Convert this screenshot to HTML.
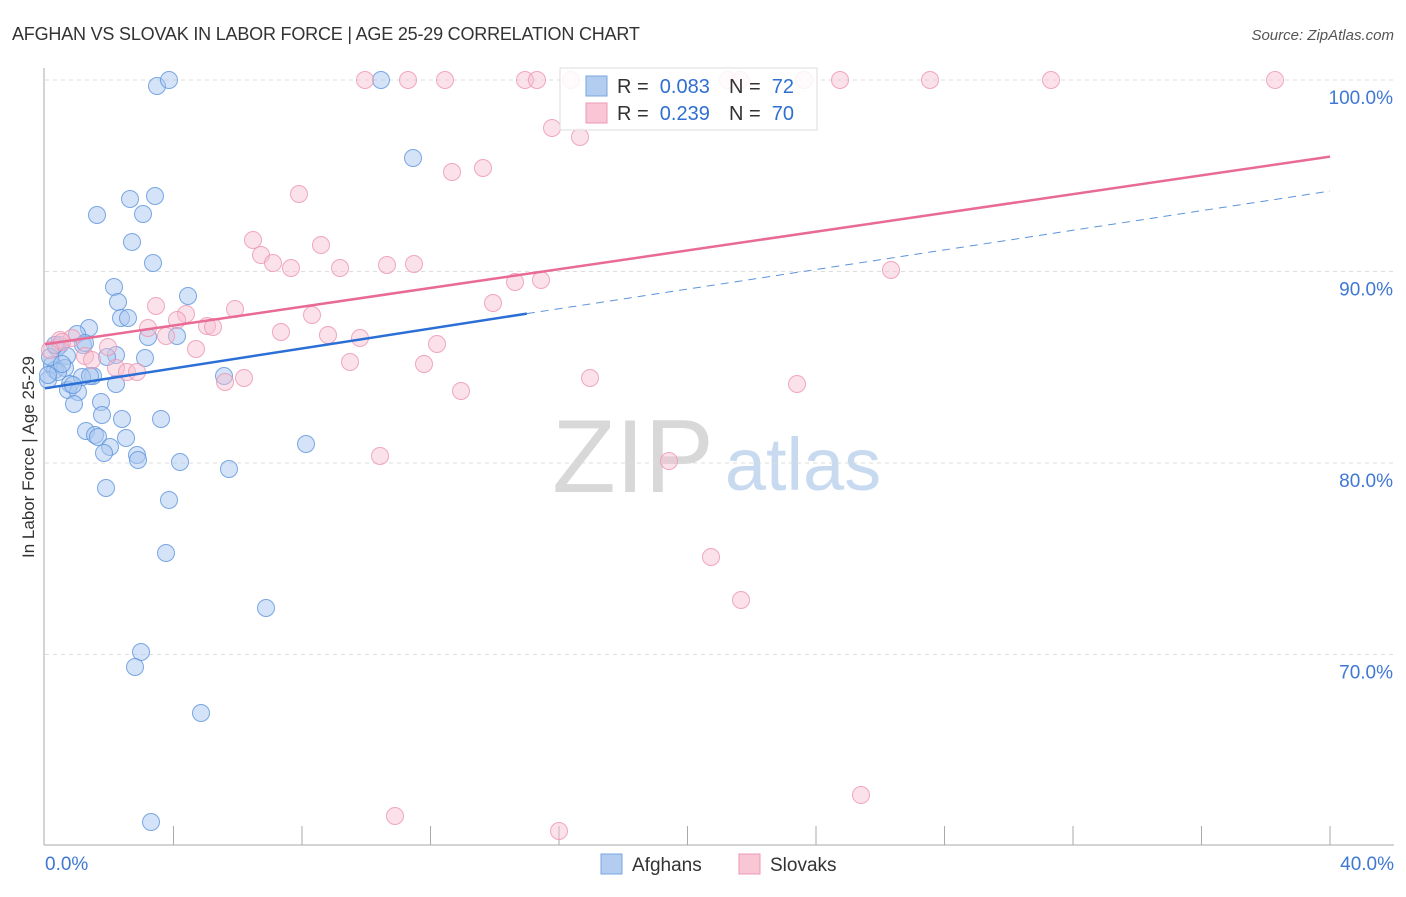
<!DOCTYPE html>
<html><head><meta charset="utf-8"><style>
body{margin:0;background:#fff;font-family:"Liberation Sans",sans-serif}
svg text{font-family:"Liberation Sans",sans-serif;white-space:pre}
</style></head><body>
<svg id="chart" width="1406" height="892" xmlns="http://www.w3.org/2000/svg">
<text x="12" y="40" font-size="18" fill="#333" letter-spacing="-0.2">AFGHAN VS SLOVAK IN LABOR FORCE | AGE 25-29 CORRELATION CHART</text>
<text x="1394" y="40" font-size="15" fill="#555" text-anchor="end" font-style="italic">Source: ZipAtlas.com</text>
<text transform="translate(34,457) rotate(-90)" font-size="17" fill="#333" text-anchor="middle">In Labor Force | Age 25-29</text>
<g><text x="633" y="492" font-size="104" fill="#d8d8d8" text-anchor="middle" font-family="Liberation Serif">ZIP</text><text x="803" y="490" font-size="74" fill="#c8daf0" text-anchor="middle">atlas</text></g>
<g id="grid"></g><g id="axes"></g><g id="pts"></g><g id="lines"></g>
<g>
<rect x="560" y="68" width="257" height="62" fill="#fff" fill-opacity="0.85" stroke="#ddd"/>
<rect x="586" y="76" width="21" height="20" fill="#b3cdf0" stroke="#7aa6e0"/>
<rect x="586" y="103" width="21" height="20" fill="#f8c6d5" stroke="#ee9ab4"/>
<text x="617" y="93" font-size="20" fill="#333">R =  <tspan fill="#2f6fd0">0.083</tspan></text>
<text x="729" y="93" font-size="20" fill="#333">N =  <tspan fill="#2f6fd0">72</tspan></text>
<text x="617" y="120" font-size="20" fill="#333">R =  <tspan fill="#2f6fd0">0.239</tspan></text>
<text x="729" y="120" font-size="20" fill="#333">N =  <tspan fill="#2f6fd0">70</tspan></text>
</g>
<g>
<rect x="601" y="854" width="21" height="20" fill="#b3cdf0" stroke="#7aa6e0"/><text x="632" y="871" font-size="19" fill="#333">Afghans</text>
<rect x="739" y="854" width="21" height="20" fill="#f8c6d5" stroke="#ee9ab4"/><text x="770" y="871" font-size="19" fill="#333">Slovaks</text>
</g>
</svg>
<script>
const blueX=[157,169,381,413,97,130,143,155,132,153,114,118,188,121,128,89,77,148,177,60,57,83,116,107,145,67,52,55,65,48,93,116,224,70,68,78,101,74,102,122,161,86,95,126,98,110,104,137,138,180,229,306,106,169,166,266,141,135,201,151,50,85,58,62,48,82,90,73,55];
const blueY=[86,80,80,158,215,199,214,196,242,263,287,302,296,318,318,328,334,337,336,345,348,345,355,357,358,356,365,370,368,380,376,384,376,384,390,392,402,404,415,419,419,431,435,438,437,447,453,455,460,462,469,444,488,500,553,608,652,667,713,822,357,343,372,364,375,377,376,385,345];
const pinkX=[365,408,445,525,537,571,728,740,804,840,930,1051,1275,552,580,452,483,299,253,261,321,273,291,340,387,414,515,541,891,156,235,493,186,312,177,148,207,213,281,328,360,166,437,60,72,196,108,85,350,424,92,116,127,137,244,225,590,797,461,380,669,711,741,861,395,559,62,50];
const pinkY=[80,80,80,80,80,80,80,80,80,80,80,80,80,128,137,172,168,194,240,255,245,263,268,268,265,264,282,280,270,306,309,303,314,315,320,328,326,327,332,335,338,336,344,340,338,349,347,356,362,364,360,368,372,372,378,382,378,384,391,456,461,557,600,795,816,831,342,350];
const toX=p=>(p-45)/1285*40, toY=p=>100-(p-80)/19.15;
const afghanX=blueX.map(toX), afghanY=blueY.map(toY), slovakX=pinkX.map(toX), slovakY=pinkY.map(toY);
const yTicks=[100,90,80,70];
const xTickLabels=["0.0%","40.0%"];
const blueTrend=[[0,83.9],[15,87.8]], blueDash=[[15,87.8],[40,94.2]], pinkTrend=[[0,86.2],[40,96.0]];
const sx=v=>45+v/40*1285, sy=v=>80+(100-v)*19.15;
const NS="http://www.w3.org/2000/svg";
function mk(t,a,p){const e=document.createElementNS(NS,t);for(const k in a)e.setAttribute(k,a[k]);p.appendChild(e);return e;}
const grid=document.getElementById('grid'),axes=document.getElementById('axes');
yTicks.forEach(v=>{
 const l=mk('line',{x1:45,x2:1394,y1:sy(v),y2:sy(v),stroke:'#ddd','stroke-dasharray':'4,4'},grid);
 
 
 const t=mk('text',{x:1393,y:sy(v)+24,'font-size':19,fill:'#3f78d4','text-anchor':'end'},axes);t.textContent=v.toFixed(1)+'%';
 
 
});
mk('line',{x1:44,x2:44,y1:68,y2:845,stroke:'#aaa'},axes);
mk('line',{x1:44,x2:1394,y1:845,y2:845,stroke:'#aaa'},axes);
for(let i=1;i<=10;i++){const x=sx(i*4);mk('line',{x1:x,x2:x,y1:826,y2:845,stroke:'#aaa'},axes);}
let t=mk('text',{x:45,y:870,'font-size':19,fill:'#3f78d4'},axes);t.textContent=xTickLabels[0];


t=mk('text',{x:1394,y:870,'font-size':19,fill:'#3f78d4','text-anchor':'end'},axes);t.textContent=xTickLabels[1];


const pts=document.getElementById('pts');
afghanX.forEach((v,i)=>{const c=mk('circle',{cx:sx(v),cy:sy(afghanY[i]),r:8.5,fill:'#a9c8ef','fill-opacity':0.5,stroke:'#5d93dc','stroke-opacity':0.8},pts);
 
 });
slovakX.forEach((v,i)=>{const c=mk('circle',{cx:sx(v),cy:sy(slovakY[i]),r:8.5,fill:'#f7bfd0','fill-opacity':0.45,stroke:'#ec94b0','stroke-opacity':0.8},pts);
 
 });
const lines=document.getElementById('lines');
let l=mk('line',{x1:sx(blueTrend[0][0]),y1:sy(blueTrend[0][1]),x2:sx(blueTrend[1][0]),y2:sy(blueTrend[1][1]),stroke:'#2b6fd6','stroke-width':2.5},lines);


l=mk('line',{x1:sx(blueDash[0][0]),y1:sy(blueDash[0][1]),x2:sx(blueDash[1][0]),y2:sy(blueDash[1][1]),stroke:'#5d93dc','stroke-width':1,'stroke-dasharray':'8,6'},lines);


l=mk('line',{x1:sx(pinkTrend[0][0]),y1:sy(pinkTrend[0][1]),x2:sx(pinkTrend[1][0]),y2:sy(pinkTrend[1][1]),stroke:'#e86a95','stroke-width':2.5},lines);


</script>
</body></html>
